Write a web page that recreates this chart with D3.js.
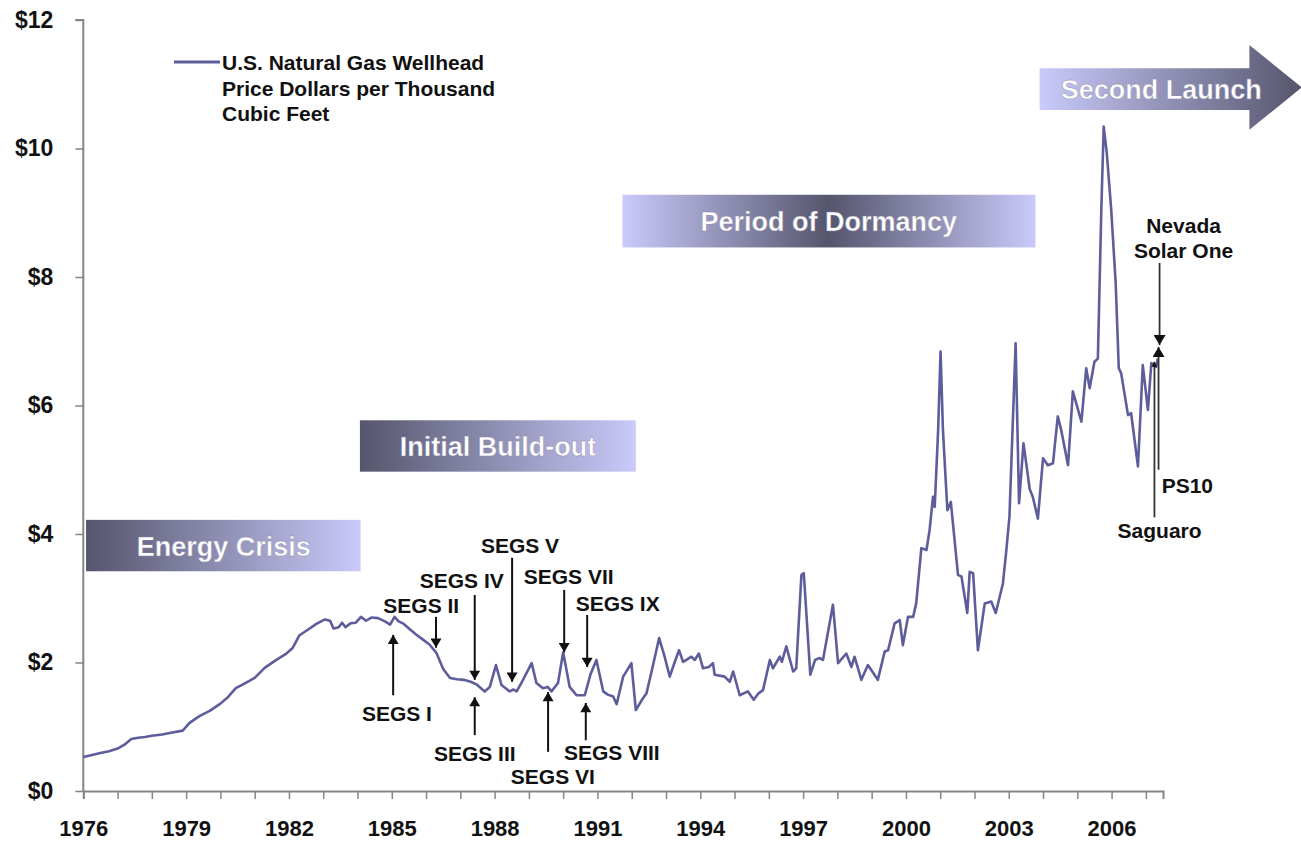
<!DOCTYPE html>
<html><head><meta charset="utf-8">
<script src="https://cdn.jsdelivr.net/npm/d3@7"></script>
<style>
body{margin:0;background:#fff;}
svg{display:block;font-family:"Liberation Sans",Arial,sans-serif;font-weight:bold;}
</style>
</head><body>
<svg id="chart" width="1301" height="842"></svg>
<script>
// ---- DATA ----
const seriesName = ["U.S. Natural Gas Wellhead", "Price Dollars per Thousand", "Cubic Feet"];
const dates = [
1976.00,1976.25,1976.50,1976.75,1977.00,1977.20,1977.40,1977.60,1977.80,1978.00,
1978.30,1978.60,1978.90,1979.10,1979.40,1979.70,1980.00,1980.20,1980.45,1980.70,
1981.00,1981.30,1981.60,1981.90,1982.10,1982.30,1982.55,1982.80,1983.05,1983.20,
1983.30,1983.45,1983.55,1983.65,1983.80,1983.95,1984.10,1984.25,1984.40,1984.60,
1984.80,1984.95,1985.08,1985.20,1985.35,1985.50,1985.70,1985.90,1986.10,1986.30,
1986.50,1986.70,1986.90,1987.10,1987.30,1987.47,1987.71,1987.86,1988.04,1988.20,
1988.44,1988.55,1988.64,1988.80,1989.08,1989.22,1989.41,1989.55,1989.66,1989.85,
1990.00,1990.19,1990.39,1990.63,1990.80,1990.97,1991.17,1991.30,1991.46,1991.56,
1991.75,1991.99,1992.12,1992.30,1992.43,1992.58,1992.80,1992.96,1993.11,1993.25,
1993.38,1993.50,1993.62,1993.74,1993.84,1993.96,1994.08,1994.25,1994.37,1994.42,
1994.71,1994.86,1994.96,1995.15,1995.39,1995.56,1995.70,1995.83,1996.03,1996.12,
1996.32,1996.38,1996.51,1996.71,1996.80,1996.95,1997.02,1997.21,1997.35,1997.48,
1997.58,1997.87,1998.02,1998.26,1998.41,1998.50,1998.70,1998.89,1999.18,1999.38,
1999.48,1999.67,1999.82,1999.91,2000.06,2000.21,2000.30,2000.45,2000.60,2000.69,
2000.79,2000.84,2000.94,2001.01,2001.08,2001.16,2001.21,2001.31,2001.52,2001.62,
2001.79,2001.86,2001.96,2002.10,2002.30,2002.49,2002.62,2002.83,2002.93,2003.02,
2003.20,2003.30,2003.43,2003.51,2003.61,2003.70,2003.85,2004.00,2004.14,2004.29,
2004.43,2004.53,2004.73,2004.87,2005.12,2005.26,2005.36,2005.50,2005.60,2005.70,
2005.77,2005.86,2005.99,2006.12,2006.21,2006.28,2006.48,2006.57,2006.77,2006.91,
2007.06,2007.16,2007.30,2007.35
];
const prices = [
0.53,0.56,0.59,0.62,0.66,0.72,0.81,0.83,0.84,0.86,
0.88,0.91,0.94,1.06,1.17,1.25,1.36,1.45,1.60,1.67,
1.76,1.92,2.03,2.13,2.22,2.42,2.51,2.60,2.67,2.65,
2.53,2.55,2.62,2.55,2.61,2.62,2.71,2.65,2.70,2.69,
2.64,2.59,2.71,2.64,2.60,2.53,2.44,2.36,2.28,2.15,
1.90,1.76,1.74,1.73,1.70,1.66,1.55,1.62,1.96,1.65,
1.55,1.58,1.55,1.70,1.99,1.68,1.60,1.62,1.55,1.68,
2.16,1.62,1.49,1.49,1.82,2.04,1.55,1.50,1.47,1.35,
1.78,1.99,1.26,1.42,1.52,1.86,2.38,2.09,1.78,2.00,
2.19,2.01,2.05,2.09,2.04,2.14,1.91,1.93,1.99,1.81,
1.78,1.70,1.86,1.49,1.55,1.42,1.52,1.57,2.04,1.91,
2.09,2.01,2.25,1.86,1.91,3.36,3.39,1.81,2.04,2.07,
2.04,2.90,1.99,2.14,1.93,2.09,1.73,1.96,1.73,2.17,
2.19,2.61,2.66,2.27,2.71,2.71,2.92,3.78,3.75,4.06,
4.58,4.42,5.62,6.84,5.62,4.84,4.37,4.50,3.36,3.34,
2.77,3.41,3.39,2.19,2.92,2.95,2.77,3.23,3.75,4.27,
6.97,4.48,5.41,5.10,4.70,4.58,4.24,5.18,5.07,5.10,
5.83,5.62,5.07,6.22,5.75,6.58,6.27,6.68,6.73,9.04,
10.34,9.93,9.04,7.90,6.58,6.50,5.85,5.88,5.05,6.63,
5.93,6.66,6.60,6.73
];
const yTickValues = [0, 2, 4, 6, 8, 10, 12];
const xTickValues = d3.range(1976, 2008);
const xLabelValues = [1976, 1979, 1982, 1985, 1988, 1991, 1994, 1997, 2000, 2003, 2006];

// annotations: name, arrow date, tail price, tip price, label date, label price
const annNames      = ["SEGS I","SEGS II","SEGS III","SEGS IV","SEGS V","SEGS VI","SEGS VII","SEGS VIII","SEGS IX"];
const annDates      = [1985.04,1986.29,1987.42,1987.42,1988.51,1989.56,1990.03,1990.66,1990.70];
const annTail       = [1.49,2.71,0.87,3.05,3.63,0.61,3.13,0.79,2.74];
const annTip        = [2.43,2.23,1.46,1.73,1.70,1.54,2.16,1.37,1.93];
const annLabelDates = [1985.15,1985.86,1987.42,1987.04,1988.74,1989.70,1990.16,1991.42,1991.59];
const annLabelPrice = [1.21,2.89,0.59,3.28,3.83,0.23,3.35,0.61,2.93];

const plantNames      = ["Nevada Solar One","PS10","Saguaro"];
const plantDates      = [2007.40,2007.37,2007.25];
const plantTail       = [8.22,5.00,4.26];
const plantTip        = [6.94,6.91,6.68];

const phaseNames = ["Energy Crisis","Initial Build-out","Period of Dormancy","Second Launch"];

// ---- CHART ----
const svg = d3.select("#chart");
const x = d3.scaleLinear().domain([1976, 2007.5]).range([83.3, 1163]);
const y = d3.scaleLinear().domain([0, 12]).range([791, 20]);

const lineColor = "#5d5d9c";
const light = "#cacafb", dark = "#55556d";

const defs = svg.append("defs");
function grad(id, stops) {
  const g = defs.append("linearGradient").attr("id", id).attr("x1","0%").attr("x2","100%").attr("y1","0%").attr("y2","0%");
  stops.forEach(s => g.append("stop").attr("offset", s[0]).attr("stop-color", s[1]));
}
grad("gDarkLight", [["0%", dark], ["100%", light]]);
grad("gLightDark", [["0%", light], ["100%", dark]]);
grad("gMid", [["0%", light], ["50%", dark], ["100%", light]]);

defs.append("marker").attr("id","ah").attr("viewBox","0 0 10 12").attr("refX",10).attr("refY",6)
  .attr("markerWidth",13).attr("markerHeight",11).attr("markerUnits","userSpaceOnUse").attr("orient","auto")
  .append("path").attr("d","M0,0 L10,6 L0,12 Z").attr("fill","#111");
defs.append("marker").attr("id","ahs").attr("viewBox","0 0 10 12").attr("refX",10).attr("refY",6)
  .attr("markerWidth",12).attr("markerHeight",12).attr("markerUnits","userSpaceOnUse").attr("orient","auto")
  .append("path").attr("d","M0,0 L10,6 L0,12 Z").attr("fill","#111");
defs.append("marker").attr("id","aht").attr("viewBox","0 0 10 12").attr("refX",10).attr("refY",6)
  .attr("markerWidth",6).attr("markerHeight",6).attr("markerUnits","userSpaceOnUse").attr("orient","auto")
  .append("path").attr("d","M0,0 L10,6 L0,12 Z").attr("fill","#111");

// phase banners
const bannerTextStyle = s => s.attr("fill","#fff").attr("font-size",27).attr("text-anchor","middle").attr("font-weight","bold")
  .attr("stroke","#8a8aa8").attr("stroke-width",0.4);

function banner(x0, x1, p0, p1, fill, label, tx) {
  svg.append("rect").attr("x", x(x0)).attr("y", y(p0)).attr("width", x(x1)-x(x0)).attr("height", y(p1)-y(p0)).attr("fill", fill);
  svg.append("text").attr("x", x(tx)).attr("y", (y(p0)+y(p1))/2 + 10).text(label).call(bannerTextStyle);
}
banner(1976.08, 1984.09, 4.22, 3.42, "url(#gDarkLight)", phaseNames[0], 1980.1);
banner(1984.07, 1992.12, 5.77, 4.97, "url(#gDarkLight)", phaseNames[1], 1988.1);
banner(1991.73, 2003.78, 9.28, 8.46, "url(#gMid)", phaseNames[2], 1997.75);

// Second launch arrow
{
  const xa = x(2003.9), xb = x(2010.02), xt = x(2011.55);
  const yt = y(11.25), yb = y(10.6), ht = y(11.61), hb = y(10.29);
  const ym = (ht + hb) / 2;
  svg.append("path").attr("d", `M${xa},${yt} L${xb},${yt} L${xb},${ht} L${xt},${ym} L${xb},${hb} L${xb},${yb} L${xa},${yb} Z`)
    .attr("fill","url(#gLightDark)");
  svg.append("text").attr("x", x(2007.45)).attr("y", (yt+yb)/2 + 10).text(phaseNames[3]).call(bannerTextStyle);
}

// axes
const axisColor = "#858585";
const yAxis = svg.append("g").attr("transform", `translate(${x(1976)},0)`)
  .call(d3.axisLeft(y).tickValues(yTickValues).tickSize(8).tickPadding(22).tickFormat(d => "$" + d));
const xAxis = svg.append("g").attr("transform", `translate(0,${y(0)})`)
  .call(d3.axisBottom(x).tickValues(xTickValues).tickSize(8).tickPadding(21)
    .tickFormat(d => xLabelValues.includes(d) ? String(d) : ""));
[yAxis, xAxis].forEach(a => {
  a.select(".domain").attr("stroke", axisColor).attr("stroke-width", 2);
  a.selectAll(".tick line").attr("stroke", axisColor).attr("stroke-width", 1.5);
  a.selectAll(".tick text").attr("fill", "#111").attr("font-size", 22).attr("font-weight", "bold")
   .attr("font-family", '"Liberation Sans",Arial,sans-serif');
});
yAxis.selectAll(".tick text").attr("font-size", 23);
yAxis.select(".domain").attr("d", `M-8,${y(12)}H0V${y(0)}`);

// series line
const pts = dates.map((d, i) => [d, prices[i]]);
svg.append("path").datum(pts)
  .attr("d", d3.line().x(d => x(d[0])).y(d => y(d[1])))
  .attr("fill","none").attr("stroke", lineColor).attr("stroke-width", 2.6).attr("stroke-linejoin","round");

// legend
{
  const lx = 174, ly = 62;
  svg.append("line").attr("x1", lx).attr("x2", lx + 46).attr("y1", ly).attr("y2", ly)
    .attr("stroke", lineColor).attr("stroke-width", 3);
  seriesName.forEach((t, i) => svg.append("text").attr("x", lx + 48).attr("y", ly + 8 + i * 25.5)
    .attr("font-size", 21).attr("fill", "#111").text(t));
}

// SEGS annotations
annNames.forEach((n, i) => {
  svg.append("line").attr("x1", x(annDates[i])).attr("x2", x(annDates[i]))
    .attr("y1", y(annTail[i])).attr("y2", y(annTip[i]))
    .attr("stroke", "#111").attr("stroke-width", 2).attr("marker-end", "url(#ah)");
  svg.append("text").attr("x", x(annLabelDates[i])).attr("y", y(annLabelPrice[i]) + 8)
    .attr("text-anchor", "middle").attr("font-size", 21).attr("fill", "#111").text(n);
});

// Plant annotations (right)
plantNames.forEach((n, i) => {
  svg.append("line").attr("x1", x(plantDates[i])).attr("x2", x(plantDates[i]))
    .attr("y1", y(plantTail[i])).attr("y2", y(plantTip[i]))
    .attr("stroke", "#333").attr("stroke-width", 1.8)
    .attr("marker-end", i === 2 ? "url(#aht)" : "url(#ahs)");
});
const lab = (t, xd, p, anchor) => svg.append("text").attr("x", x(xd)).attr("y", y(p) + 8)
  .attr("text-anchor", anchor).attr("font-size", 21).attr("fill", "#111").text(t);
lab("Nevada", 2008.1, 8.81, "middle");
lab("Solar One", 2008.1, 8.42, "middle");
lab(plantNames[1], 2007.46, 4.76, "start");
lab(plantNames[2], 2007.40, 4.06, "middle");
</script>
</body></html>
